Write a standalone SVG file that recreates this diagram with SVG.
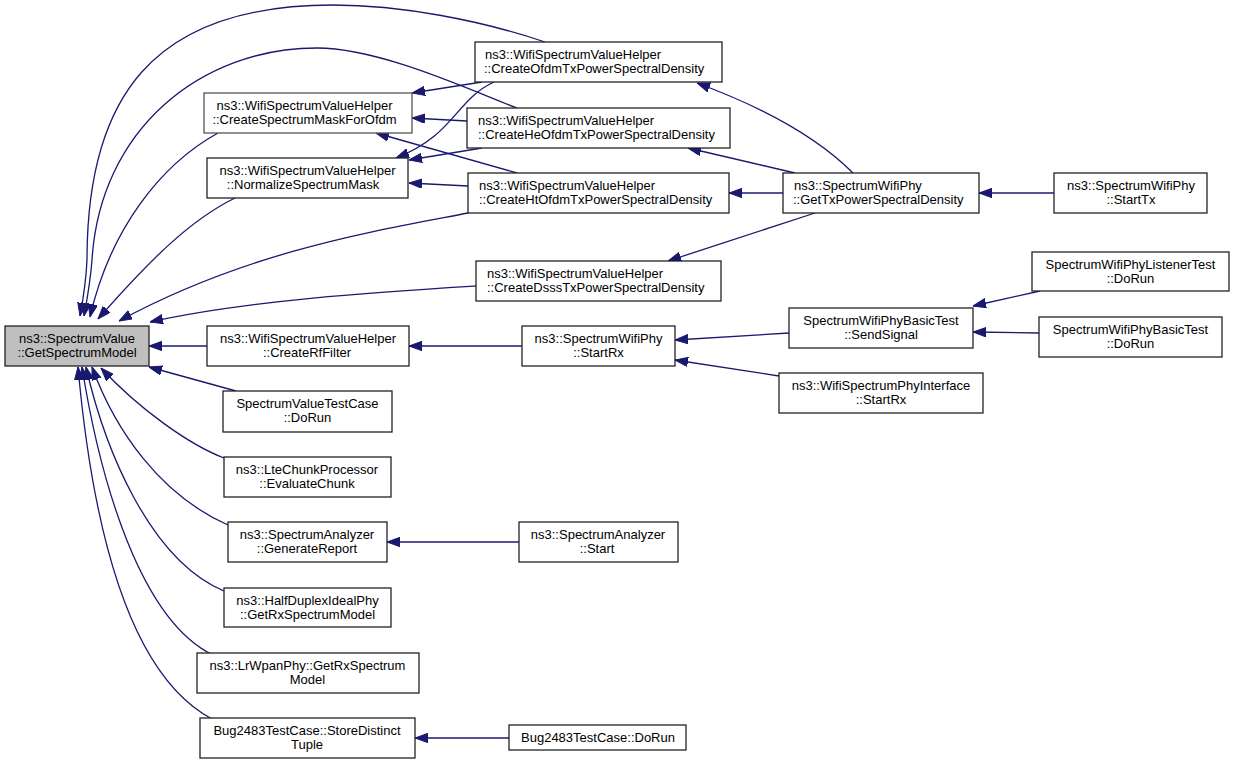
<svg xmlns="http://www.w3.org/2000/svg" width="1235" height="764" viewBox="0 0 1235 764">
<style>
.n rect{fill:#fff;stroke:#222;stroke-width:1.3}
.n.g rect{stroke:#555}
.n.m rect{fill:#bfbfbf;stroke:#222}
text{font-family:"Liberation Sans",Arial,sans-serif;font-size:13px;fill:#000}
.c{text-anchor:middle}
#edges path{fill:none;stroke:#191970;stroke-width:1.3;marker-end:url(#ah)}
</style>
<defs>
<marker id="ah" markerUnits="userSpaceOnUse" markerWidth="13" markerHeight="10" refX="13" refY="4.7" orient="auto">
<path d="M0,0 L13,4.7 L0,9.4 z" fill="#191970" stroke="#191970" stroke-width="1"/>
</marker>
</defs>
<rect width="1235" height="764" fill="#fff"/>
<g id="edges">
<path d="M545,42 C480,20 400,5 333,5 C150,5 87,100 87,260 C86,282 83,300 80,316"/>
<path d="M517,108 C470,90 380,48 317,48 C200,48 100,130 92,260 C90,285 87,300 84,316"/>
<path d="M218,133 C160,165 110,230 90,317"/>
<path d="M235,198 C190,220 150,260 98,319"/>
<path d="M468,213 C380,230 250,250 119,321"/>
<path d="M476,286 C380,292 250,300 150,322"/>
<path d="M207,346 L149,346"/>
<path d="M236,391 L149,367"/>
<path d="M224,458 C190,445 140,410 101,368"/>
<path d="M228,525 C160,495 115,430 92,367"/>
<path d="M224,591 C150,560 105,450 86,367"/>
<path d="M213,655 C140,620 100,480 82,367"/>
<path d="M212,719 C120,670 90,500 78,367"/>
<path d="M482,82 L412,93"/>
<path d="M494,82 C455,100 455,135 396,158"/>
<path d="M467,121 L412,118"/>
<path d="M482,148 L409,160"/>
<path d="M517,173 L376,133"/>
<path d="M468,186 L409,183"/>
<path d="M853,173 C820,140 770,110 697,83"/>
<path d="M795,173 L688,148"/>
<path d="M783,193 L729,193"/>
<path d="M815,213 L668,261"/>
<path d="M1054,193 L979,193"/>
<path d="M522,346 L409,346"/>
<path d="M789,333 L675,340"/>
<path d="M779,376 L675,360"/>
<path d="M1040,291 L973,306"/>
<path d="M1039,333 L973,332"/>
<path d="M519,542 L387,542"/>
<path d="M509,738 L415,738"/>
</g>
<g id="n_main" class="n m"><rect x="5" y="326" width="144" height="40"/><text class="c" x="77" y="343">ns3::SpectrumValue</text><text class="c" x="77" y="357">::GetSpectrumModel</text></g>
<g id="n_mask" class="n g"><rect x="204" y="93" width="208" height="40"/><text class="c" x="304.5" y="110">ns3::WifiSpectrumValueHelper</text><text class="c" x="304.5" y="124">::CreateSpectrumMaskForOfdm</text></g>
<g id="n_norm" class="n"><rect x="207" y="158" width="201" height="40"/><text class="c" x="307.5" y="175">ns3::WifiSpectrumValueHelper</text><text class="c" x="303" y="189">::NormalizeSpectrumMask</text></g>
<g id="n_ofdm" class="n"><rect x="475" y="42" width="247" height="40"/><text x="485" y="59">ns3::WifiSpectrumValueHelper</text><text x="484" y="73">::CreateOfdmTxPowerSpectralDensity</text></g>
<g id="n_he" class="n"><rect x="467" y="108" width="263" height="40"/><text x="478" y="125">ns3::WifiSpectrumValueHelper</text><text x="478" y="139">::CreateHeOfdmTxPowerSpectralDensity</text></g>
<g id="n_ht" class="n"><rect x="468" y="173" width="261" height="40"/><text x="479" y="190">ns3::WifiSpectrumValueHelper</text><text x="479" y="204">::CreateHtOfdmTxPowerSpectralDensity</text></g>
<g id="n_dsss" class="n"><rect x="476" y="261" width="245" height="40"/><text x="487" y="278">ns3::WifiSpectrumValueHelper</text><text x="487" y="292">::CreateDsssTxPowerSpectralDensity</text></g>
<g id="n_gettx" class="n"><rect x="783" y="173" width="196" height="40"/><text x="794" y="190">ns3::SpectrumWifiPhy</text><text x="793" y="204">::GetTxPowerSpectralDensity</text></g>
<g id="n_starttx" class="n"><rect x="1054" y="173" width="153" height="40"/><text class="c" x="1131" y="190">ns3::SpectrumWifiPhy</text><text class="c" x="1131" y="204">::StartTx</text></g>
<g id="n_listener" class="n"><rect x="1032" y="252" width="197" height="39"/><text class="c" x="1130.5" y="269">SpectrumWifiPhyListenerTest</text><text class="c" x="1130.5" y="283">::DoRun</text></g>
<g id="n_basicdorun" class="n"><rect x="1039" y="317" width="183" height="40"/><text class="c" x="1130.5" y="334">SpectrumWifiPhyBasicTest</text><text class="c" x="1130.5" y="348">::DoRun</text></g>
<g id="n_send" class="n"><rect x="789" y="308" width="184" height="40"/><text class="c" x="881" y="325">SpectrumWifiPhyBasicTest</text><text class="c" x="881" y="339">::SendSignal</text></g>
<g id="n_iface" class="n"><rect x="779" y="373" width="204" height="40"/><text class="c" x="881" y="390">ns3::WifiSpectrumPhyInterface</text><text class="c" x="881" y="404">::StartRx</text></g>
<g id="n_startrx" class="n"><rect x="522" y="326" width="153" height="40"/><text class="c" x="598.5" y="343">ns3::SpectrumWifiPhy</text><text class="c" x="598.5" y="357">::StartRx</text></g>
<g id="n_rf" class="n"><rect x="207" y="326" width="202" height="40"/><text class="c" x="308" y="343">ns3::WifiSpectrumValueHelper</text><text class="c" x="307" y="357">::CreateRfFilter</text></g>
<g id="n_svtc" class="n"><rect x="223" y="391" width="169" height="41"/><text class="c" x="307.5" y="408">SpectrumValueTestCase</text><text class="c" x="307.5" y="422">::DoRun</text></g>
<g id="n_lte" class="n"><rect x="224" y="457" width="167" height="40"/><text class="c" x="307" y="474">ns3::LteChunkProcessor</text><text class="c" x="307" y="488">::EvaluateChunk</text></g>
<g id="n_genrep" class="n"><rect x="228" y="522" width="159" height="40"/><text class="c" x="307" y="539">ns3::SpectrumAnalyzer</text><text class="c" x="307" y="553">::GenerateReport</text></g>
<g id="n_half" class="n"><rect x="224" y="588" width="167" height="39"/><text class="c" x="307.5" y="605">ns3::HalfDuplexIdealPhy</text><text class="c" x="307.5" y="619">::GetRxSpectrumModel</text></g>
<g id="n_lrwpan" class="n"><rect x="197" y="653" width="222" height="40"/><text class="c" x="307.5" y="670">ns3::LrWpanPhy::GetRxSpectrum</text><text class="c" x="307.5" y="684">Model</text></g>
<g id="n_bugstore" class="n"><rect x="200" y="718" width="215" height="40"/><text class="c" x="307" y="735">Bug2483TestCase::StoreDistinct</text><text class="c" x="307" y="749">Tuple</text></g>
<g id="n_astart" class="n"><rect x="519" y="522" width="159" height="40"/><text class="c" x="598" y="539">ns3::SpectrumAnalyzer</text><text class="c" x="597" y="553">::Start</text></g>
<g id="n_bugdorun" class="n"><rect x="509" y="725" width="177" height="25"/><text class="c" x="598" y="742">Bug2483TestCase::DoRun</text></g>
</svg>
